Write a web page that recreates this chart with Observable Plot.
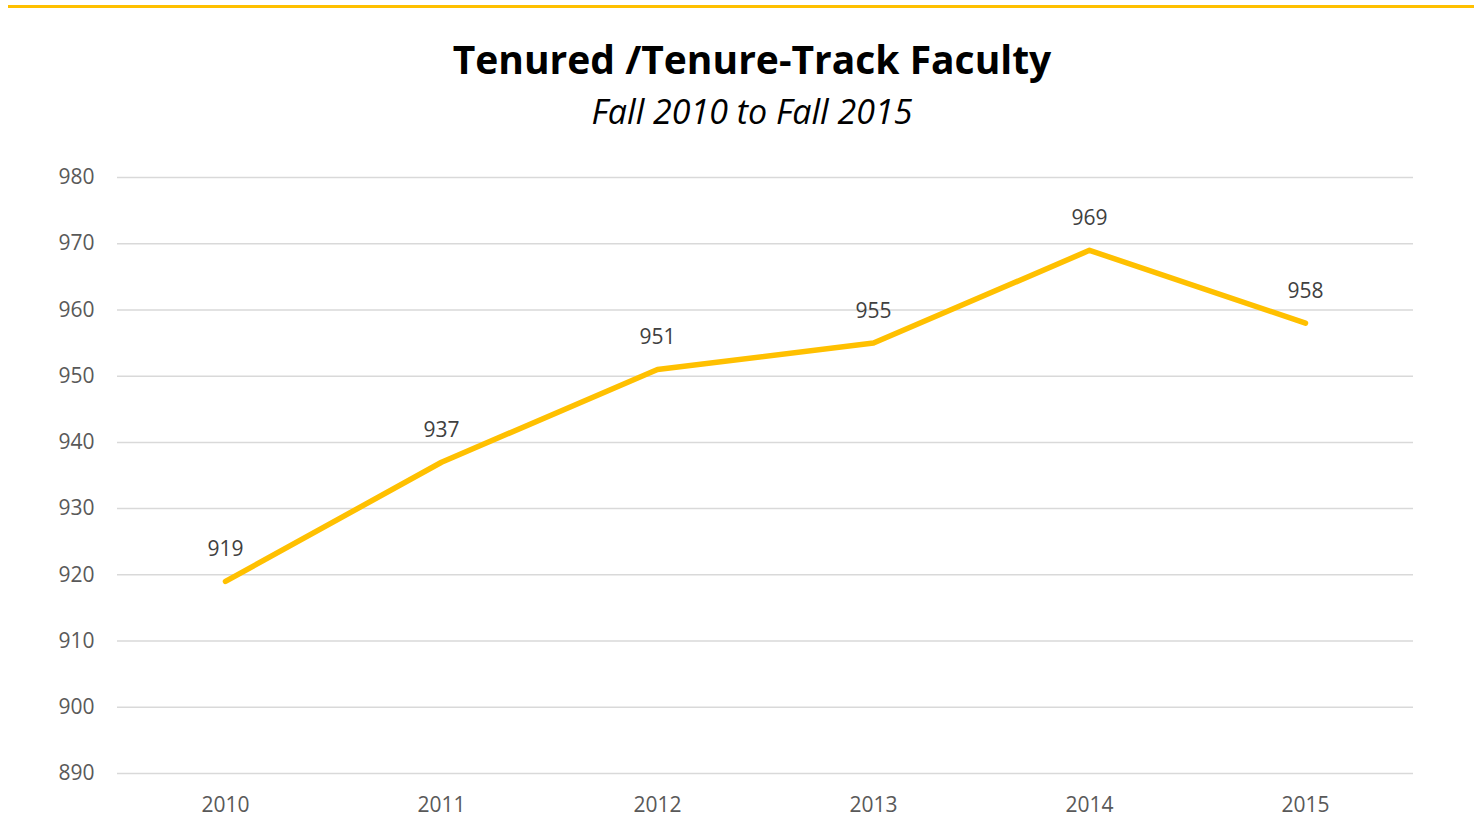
<!DOCTYPE html>
<html>
<head>
<meta charset="utf-8">
<script src="https://cdn.jsdelivr.net/npm/d3@7"></script>
<script src="https://cdn.jsdelivr.net/npm/@observablehq/plot@0.6"></script>
<style>
  html, body { margin: 0; padding: 0; background: #fff; }
  body { width: 1474px; height: 818px; position: relative; overflow: hidden; font-family: "Open Sans", sans-serif; }
  #topline { position: absolute; left: 8px; top: 5px; width: 1466px; height: 3px; background: #FFC000; }
  #title { position: absolute; left: 0; width: 1504px; top: 34px; text-align: center; font-weight: bold; font-size: 39px; line-height: 1.3; color: #000; }
  #subtitle { position: absolute; left: 0; width: 1504px; top: 89px; text-align: center; font-style: italic; font-size: 34px; line-height: 1.3; color: #000; }
  #chart { position: absolute; left: 0; top: 150px; }
</style>
</head>
<body>
<div id="topline"></div>
<div id="title">Tenured /Tenure-Track Faculty</div>
<div id="subtitle">Fall 2010 to Fall 2015</div>
<div id="chart"></div>
<script>
const years = ["2010", "2011", "2012", "2013", "2014", "2015"];
const faculty = [919, 937, 951, 955, 969, 958];
const yTicks = [890, 900, 910, 920, 930, 940, 950, 960, 970, 980];

const data = years.map((y, i) => ({year: y, value: faculty[i]}));

const chart = Plot.plot({
  width: 1474,
  height: 668,
  marginLeft: 117,
  marginRight: 61,
  marginTop: 27,
  marginBottom: 45,
  style: {fontFamily: "'Open Sans', sans-serif", fontSize: "21px", color: "#595959", background: "#fff"},
  x: {type: "point", domain: years, padding: 0.5, label: null},
  y: {domain: [890, 980], label: null},
  marks: [
    Plot.gridY(yTicks, {stroke: "#d9d9d9", strokeOpacity: 1, strokeWidth: 1.5}),
    Plot.axisY(yTicks, {tickSize: 0, tickPadding: 23, label: null, fill: "#595959", fontSize: 21}),
    Plot.axisX(years, {tickSize: 0, tickPadding: 24, label: null, fill: "#595959", fontSize: 21}),
    Plot.line(data, {x: "year", y: "value", stroke: "#FFC000", strokeWidth: 5.5, strokeLinejoin: "round", strokeLinecap: "round"}),
    Plot.text(data, {x: "year", y: "value", text: d => String(d.value), dy: -32, fill: "#404040", fontSize: 21})
  ]
});
document.getElementById("chart").appendChild(chart);
</script>
</body>
</html>
